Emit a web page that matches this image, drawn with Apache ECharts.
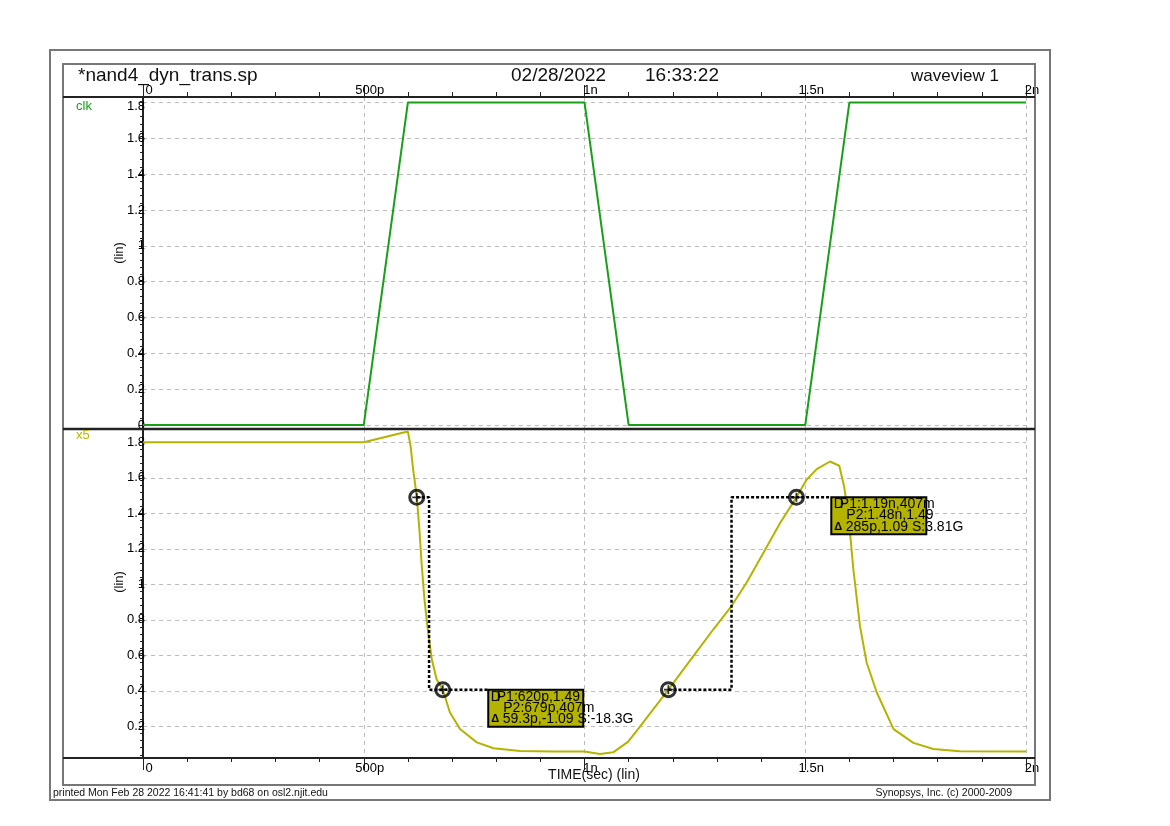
<!DOCTYPE html>
<html><head><meta charset="utf-8">
<script src="https://cdn.jsdelivr.net/npm/echarts@6/dist/echarts.min.js"></script>
<style>html,body{margin:0;padding:0;background:#fff}#c{width:1170px;height:826px}</style>
</head><body><div id="c"></div>
<script>
const FONT = '"Liberation Sans", Arial, sans-serif';

// ---- data (time in ps, voltage in V) ----
const clkTime = [0, 500, 600, 1000, 1100, 1500, 1600, 2000];
const clkVolt = [0, 0, 1.8, 1.8, 0, 0, 1.8, 1.8];

const x5Time = [0, 500, 590, 600, 606, 612, 620, 626, 631, 637, 644, 654, 665, 679, 695, 718, 756, 794, 854, 930, 1000, 1035, 1065, 1099, 1126, 1190, 1247, 1292, 1333, 1367, 1405, 1443, 1480, 1503, 1526, 1556, 1577, 1588, 1598, 1609, 1624, 1639, 1662, 1700, 1745, 1790, 1850, 2000];
const x5Volt = [1.80, 1.80, 1.855, 1.86, 1.78, 1.645, 1.495, 1.31, 1.12, 0.93, 0.765, 0.58, 0.465, 0.407, 0.28, 0.185, 0.11, 0.077, 0.062, 0.058, 0.058, 0.045, 0.054, 0.114, 0.20, 0.407, 0.597, 0.747, 0.878, 1.009, 1.177, 1.346, 1.49, 1.589, 1.649, 1.692, 1.668, 1.552, 1.383, 1.084, 0.765, 0.56, 0.391, 0.185, 0.107, 0.073, 0.06, 0.058];

const xTickValues = [0, 500, 1000, 1500, 2000];
const xTickLabels = ['0', '500p', '1n', '1.5n', '2n'];
const yTickValues = [0, 0.2, 0.4, 0.6, 0.8, 1.0, 1.2, 1.4, 1.6, 1.8];
const yTickLabels = ['0', '0.2', '0.4', '0.6', '0.8', '1', '1.2', '1.4', '1.6', '1.8'];

// measurement cursors
const m1Points = [[620, 1.49], [679, 0.407]];
const m1Path = [[620, 1.49], [648, 1.49], [648, 0.407], [782, 0.407]];
const m1Box = [782, 0.407];
const m1Text = ['P1:620p,1.49', 'P2:679p,407m', '59.3p,-1.09 S:-18.3G'];
const m2Points = [[1190, 0.407], [1480, 1.49]];
const m2Path = [[1190, 0.407], [1333, 0.407], [1333, 1.49], [1559, 1.49]];
const m2Box = [1559, 1.49];
const m2Text = ['P1:1.19n,407m', 'P2:1.48n,1.49', '285p,1.09 S:3.81G'];

// ---- layout ----
const L = { left: 143, right: 1026, top: 97, mid: 429, bottom: 758, fl: 63, fr: 1035 };
const GREEN = '#18a018', YEL = '#b4b400', GRID = '#bcbcbc', AX = '#222';

const zip = (a, b) => a.map((v, i) => [v, b[i]]);
const xLab = v => { const i = xTickValues.indexOf(v); return i >= 0 ? xTickLabels[i] : ''; };
const yLab = v => { const i = yTickValues.findIndex(t => Math.abs(t - v) < 1e-6); return i >= 0 ? yTickLabels[i] : ''; };

const topRange = [-0.022, 1.83], botRange = [0.022, 1.875];
const minorVals = [];
for (let k = 0; k <= 45; k++) minorVals.push(+(k * 0.04).toFixed(2));

function xAxisCfg(grid, pos) {
  return {
    type: 'value', gridIndex: grid, position: pos, min: 0, max: 2000, interval: 500,
    axisLine: { show: false, onZero: false },
    axisTick: { show: true, length: 12, lineStyle: { color: AX, width: 1 } },
    minorTick: { show: true, splitNumber: 5, length: pos === 'top' ? 5 : 4, lineStyle: { color: AX, width: 1 } },
    axisLabel: { formatter: xLab, fontFamily: FONT, fontSize: 13, color: '#000', margin: pos === 'top' ? 0 : 4, padding: [0, 0, 0, 12] },
    splitLine: { show: true, lineStyle: { color: GRID, type: [4, 4], width: 1 } }
  };
}
function yAxisCfg(grid, range, isTop) {
  const vals = yTickValues.filter(v => v >= range[0] && v <= range[1]);
  return {
    type: 'value', gridIndex: grid, position: 'left', min: range[0], max: range[1],
    axisLine: { show: true, onZero: false, lineStyle: { color: AX, width: 2 } },
    axisTick: { show: true, customValues: vals, length: 4, lineStyle: { color: AX } },
    axisLabel: {
      customValues: vals, fontFamily: FONT, fontSize: 13, color: '#000', margin: -2,
      formatter: v => (isTop && Math.abs(v - 1.8) < 1e-6) ? '{t|' + yLab(v) + '}' : yLab(v),
      rich: { t: { fontFamily: FONT, fontSize: 13, color: '#000', padding: [8, 0, 0, 0] } }
    },
    splitLine: { show: true, lineStyle: { color: GRID, type: [4, 4], width: 1 } }
  };
}
function yMinorCfg(grid, range) {
  return {
    type: 'value', gridIndex: grid, position: 'left', offset: 0, min: range[0], max: range[1],
    axisLine: { show: false, onZero: false },
    axisTick: { show: true, customValues: minorVals.filter(v => v >= range[0] && v <= range[1]), length: 3, lineStyle: { color: AX } },
    axisLabel: { show: false }, splitLine: { show: false }
  };
}

const boxTexts = [m1Text, m2Text];
function renderBox(params, api) {
  const idx = api.value(2);
  const p = api.coord([api.value(0), api.value(1)]);
  const x = p[0], y = p[1];
  const lines = boxTexts[idx];
  const ts = (t, dx, dy, extra) => ({
    type: 'text', x: x + dx, y: y + dy,
    style: Object.assign({ text: t, fill: '#000', font: '14px ' + FONT, align: 'left', verticalAlign: 'middle', textAlign: 'left', textVerticalAlign: 'middle' }, extra || {})
  });
  return {
    type: 'group',
    children: [
      { type: 'rect', shape: { x: x, y: y, width: 95, height: 37 }, style: { fill: YEL, stroke: '#000', lineWidth: 2 } },
      ts('D', 2.5, 7),
      ts(lines[0], 8.5, 7),
      ts(lines[1], 15, 18),
      ts('\u0394', 3, 29.5, { font: 'bold 11px ' + FONT }),
      ts(lines[2], 14.5, 29.5)
    ]
  };
}

const hline = (y, w) => ({ type: 'line', shape: { x1: L.fl, y1: y, x2: L.fr, y2: y }, style: { stroke: AX, lineWidth: w }, z: 50 });
const txt = (t, x, y, size, align, color, extra) => Object.assign({
  type: 'text', x: x, y: y, z: 60,
  style: { text: t, font: size + 'px ' + FONT, fill: color || '#111', align: align, textAlign: align, verticalAlign: 'middle', textVerticalAlign: 'middle' }
}, extra || {});

const option = {
  animation: false,
  backgroundColor: '#fff',
  grid: [
    { left: L.left, width: L.right - L.left, top: L.top, height: L.mid - L.top },
    { left: L.left, width: L.right - L.left, top: L.mid, height: L.bottom - L.mid }
  ],
  xAxis: [xAxisCfg(0, 'top'), xAxisCfg(1, 'bottom')],
  yAxis: [yAxisCfg(0, topRange, true), yAxisCfg(1, botRange, false), yMinorCfg(0, topRange), yMinorCfg(1, botRange)],
  series: [
    { name: 'clk', type: 'line', xAxisIndex: 0, yAxisIndex: 0, data: zip(clkTime, clkVolt), showSymbol: false, lineStyle: { color: GREEN, width: 2 }, z: 5 },
    { name: 'x5', type: 'line', xAxisIndex: 1, yAxisIndex: 1, data: zip(x5Time, x5Volt), showSymbol: false, lineStyle: { color: YEL, width: 2 }, z: 5, clip: false },
    { type: 'line', xAxisIndex: 1, yAxisIndex: 1, data: m1Path, showSymbol: false, lineStyle: { color: '#000', width: 2.5, type: [3, 2] }, z: 6 },
    { type: 'line', xAxisIndex: 1, yAxisIndex: 1, data: m2Path, showSymbol: false, lineStyle: { color: '#000', width: 2.5, type: [3, 2] }, z: 6 },
    { type: 'scatter', xAxisIndex: 1, yAxisIndex: 1, data: m1Points.concat(m2Points), symbol: 'circle', symbolSize: 14,
      itemStyle: { color: 'rgba(255,255,255,0)', borderColor: '#000', borderWidth: 3 }, z: 7 },
    { type: 'scatter', xAxisIndex: 1, yAxisIndex: 1, data: m1Points.concat(m2Points), symbol: 'path://M0,4H10V6H0ZM4,0H6V10H4Z', symbolSize: 9,
      itemStyle: { color: '#000' }, z: 8 },
    { type: 'custom', xAxisIndex: 1, yAxisIndex: 1, renderItem: renderBox, clip: false, z: 9,
      data: [[m1Box[0], m1Box[1], 0], [m2Box[0], m2Box[1], 1]] }
  ],
  graphic: [
    { type: 'rect', shape: { x: 50, y: 50, width: 1000, height: 750 }, style: { fill: 'none', stroke: '#777', lineWidth: 2 }, z: 40 },
    { type: 'rect', shape: { x: L.fl, y: 64, width: L.fr - L.fl, height: 721 }, style: { fill: 'none', stroke: '#777', lineWidth: 2 }, z: 40 },
    hline(L.top, 2), hline(L.mid, 2.5), hline(L.bottom, 2),
    txt('*nand4_dyn_trans.sp', 78, 76, 19, 'left', '#111'),
    txt('02/28/2022', 511, 76, 19, 'left', '#111'),
    txt('16:33:22', 645, 76, 19, 'left', '#111'),
    txt('waveview 1', 911, 76, 17, 'left', '#111'),
    txt('clk', 76, 106, 13, 'left', GREEN),
    txt('x5', 76, 435, 13, 'left', '#b8b800'),
    txt('(lin)', 119, 253, 13, 'center', '#111', { rotation: Math.PI / 2 }),
    txt('(lin)', 119, 582, 13, 'center', '#111', { rotation: Math.PI / 2 }),
    txt('TIME(sec) (lin)', 594, 775, 14, 'center', '#111'),
    txt('printed Mon Feb 28 2022 16:41:41 by bd68 on osl2.njit.edu', 53, 793, 10.5, 'left', '#111'),
    txt('Synopsys, Inc. (c) 2000-2009', 1012, 793, 10.5, 'right', '#111')
  ]
};

const chart = echarts.init(document.getElementById('c'), null, { renderer: 'canvas' });
chart.setOption(option);
</script>
</body></html>
